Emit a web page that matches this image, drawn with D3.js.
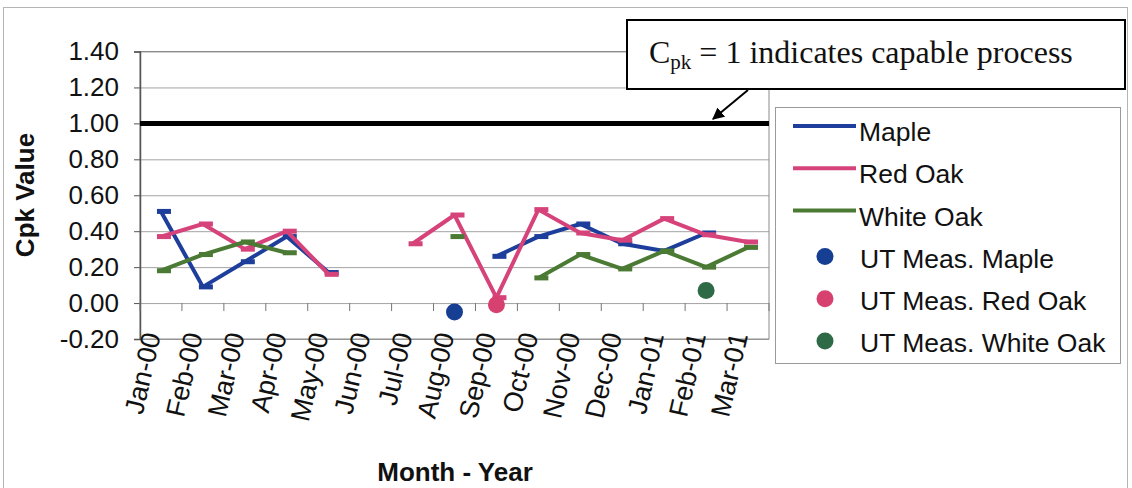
<!DOCTYPE html>
<html>
<head>
<meta charset="utf-8">
<script src="https://cdn.jsdelivr.net/npm/d3@7"></script>
<style>
  html, body { margin: 0; padding: 0; background: #fff; }
  svg { display: block; }
  .sans { font-family: "Liberation Sans", Arial, sans-serif; }
  .serif { font-family: "Liberation Serif", "Times New Roman", serif; }
</style>
</head>
<body>
<svg id="chart" width="1132" height="488"></svg>
<script>
// Monthly Cpk values per species (null = no production that month)
const months = ["Jan-00","Feb-00","Mar-00","Apr-00","May-00","Jun-00","Jul-00","Aug-00",
                "Sep-00","Oct-00","Nov-00","Dec-00","Jan-01","Feb-01","Mar-01"];
const maple    = [0.51, 0.09, 0.23, 0.37, 0.17, null, null, null, 0.26, 0.37, 0.44, 0.33, 0.29, 0.39, null];
const redOak   = [0.37, 0.44, 0.30, 0.40, 0.16, null, 0.33, 0.49, 0.03, 0.52, 0.39, 0.35, 0.47, 0.38, 0.34];
const whiteOak = [0.18, 0.27, 0.34, 0.28, null, null, null, 0.37, null, 0.14, 0.27, 0.19, 0.29, 0.20, 0.31];
// Ultrasonic measurement results
const utMaple    = [null, null, null, null, null, null, null, -0.05, null, null, null, null, null, null, null];
const utRedOak   = [null, null, null, null, null, null, null, null, -0.01, null, null, null, null, null, null];
const utWhiteOak = [null, null, null, null, null, null, null, null, null, null, null, null, null, 0.07, null];
const yTicks = [-0.2, 0, 0.2, 0.4, 0.6, 0.8, 1.0, 1.2, 1.4];
const capableCpk = 1.0;

const lineSeries = [
  { name: "Maple",     values: maple,    color: "#1d3e9b" },
  { name: "Red Oak",   values: redOak,   color: "#d6437a" },
  { name: "White Oak", values: whiteOak, color: "#4a7a33" }
];
const dotSeries = [
  { name: "UT Meas. Maple",     values: utMaple,    color: "#163f93" },
  { name: "UT Meas. Red Oak",   values: utRedOak,   color: "#d7416f" },
  { name: "UT Meas. White Oak", values: utWhiteOak, color: "#2f6a46" }
];

const svg = d3.select("#chart");
const plotL = 140, plotR = 769, plotT = 51.5, plotB = 339;

// outer chart frame
svg.append("rect").attr("x", 3.5).attr("y", 7.5).attr("width", 1124).attr("height", 500)
  .attr("fill", "#fff").attr("stroke", "#b5b5b5").attr("stroke-width", 1);

const x = d3.scaleBand().domain(months).range([plotL, plotR]);
const y = d3.scaleLinear().domain([-0.2, 1.4]).range([plotB, plotT]);
const cx = m => x(m) + x.bandwidth() / 2;

// gridlines
svg.append("g").attr("transform", `translate(${plotL},0)`)
  .call(d3.axisLeft(y).tickValues(yTicks).tickSize(-(plotR - plotL)).tickFormat(""))
  .call(g => g.select(".domain").remove())
  .call(g => g.selectAll("line").attr("stroke", "#a3a3a3").attr("stroke-width", 1));

// plot area border
svg.append("rect").attr("x", plotL).attr("y", plotT).attr("width", plotR - plotL).attr("height", plotB - plotT)
  .attr("fill", "none").attr("stroke", "#8a8a8a").attr("stroke-width", 1);

// value axis
svg.append("g").attr("class", "sans").attr("transform", `translate(${plotL},0)`)
  .call(d3.axisLeft(y).tickValues(yTicks).tickSize(6).tickPadding(15).tickFormat(d => d.toFixed(2)))
  .call(g => g.select(".domain").attr("stroke", "#555").attr("stroke-width", 1.5))
  .call(g => g.selectAll("line").attr("stroke", "#555"))
  .call(g => g.selectAll("text").attr("font-size", 26).attr("fill", "#111")
                .attr("font-family", "Liberation Sans, Arial, sans-serif"));

// category axis: tick marks on the zero line at category boundaries
const bounds = months.map(m => x(m)).concat([plotR]);
svg.append("g").selectAll("line").data(bounds).join("line")
  .attr("x1", d => d).attr("x2", d => d)
  .attr("y1", y(0)).attr("y2", y(0) + 8)
  .attr("stroke", "#777").attr("stroke-width", 1);

// category labels at the bottom of the plot
svg.append("g").attr("class", "sans").selectAll("text").data(months).join("text")
  .attr("transform", d => `translate(${cx(d)},${plotB - 4}) rotate(-77)`)
  .attr("text-anchor", "end")
  .attr("font-size", 27).attr("fill", "#111")
  .text(d => d);

// Cpk = 1 reference line
svg.append("line")
  .attr("x1", plotL).attr("x2", plotR).attr("y1", y(capableCpk)).attr("y2", y(capableCpk))
  .attr("stroke", "#000").attr("stroke-width", 5);

// species lines with dash markers
const line = d3.line().defined(d => d.v != null).x(d => cx(d.m)).y(d => y(d.v));
lineSeries.forEach(s => {
  const pts = months.map((m, i) => ({ m, v: s.values[i] }));
  svg.append("path").datum(pts).attr("d", line)
    .attr("fill", "none").attr("stroke", s.color).attr("stroke-width", 4)
    .attr("stroke-linejoin", "round");
  svg.append("g").selectAll("rect").data(pts.filter(d => d.v != null)).join("rect")
    .attr("x", d => cx(d.m) - 4).attr("y", d => y(d.v) - 2.5)
    .attr("width", 14).attr("height", 5).attr("fill", s.color);
});

// UT measurement points
dotSeries.forEach(s => {
  const pts = months.map((m, i) => ({ m, v: s.values[i] })).filter(d => d.v != null);
  svg.append("g").selectAll("circle").data(pts).join("circle")
    .attr("cx", d => cx(d.m)).attr("cy", d => y(d.v)).attr("r", 8.5).attr("fill", s.color);
});

// axis titles
svg.append("text").attr("class", "sans")
  .attr("transform", `translate(34,195) rotate(-90)`)
  .attr("text-anchor", "middle").attr("font-size", 26).attr("font-weight", "bold").attr("fill", "#111")
  .text("Cpk Value");
svg.append("text").attr("class", "sans")
  .attr("x", 455).attr("y", 481).attr("text-anchor", "middle")
  .attr("font-size", 26).attr("font-weight", "bold").attr("fill", "#111")
  .text("Month - Year");

// legend
const lg = svg.append("g").attr("class", "sans");
lg.append("rect").attr("x", 775.5).attr("y", 107.5).attr("width", 345).attr("height", 256)
  .attr("fill", "#fff").attr("stroke", "#9a9a9a").attr("stroke-width", 1);
const rowY = i => 132 + i * 42.2;
lineSeries.forEach((s, i) => {
  lg.append("line").attr("x1", 793).attr("x2", 856).attr("y1", rowY(i) - 6).attr("y2", rowY(i) - 6)
    .attr("stroke", s.color).attr("stroke-width", 4);
  lg.append("text").attr("x", 859).attr("y", rowY(i)).attr("dy", "0.35em")
    .attr("font-size", 26.5).attr("fill", "#111").text(s.name);
});
dotSeries.forEach((s, j) => {
  const i = j + 3;
  lg.append("circle").attr("cx", 825).attr("cy", rowY(i) - 2).attr("r", 8.5).attr("fill", s.color);
  lg.append("text").attr("x", 860).attr("y", rowY(i)).attr("dy", "0.35em")
    .attr("font-size", 26.5).attr("fill", "#111").text(s.name);
});

// callout box and arrow
svg.append("defs").append("marker").attr("id", "arrowhead")
  .attr("viewBox", "0 0 10 10").attr("refX", 9).attr("refY", 5)
  .attr("markerWidth", 6).attr("markerHeight", 6).attr("orient", "auto")
  .append("path").attr("d", "M0,0 L10,5 L0,10 z").attr("fill", "#000");
svg.append("line").attr("x1", 748).attr("y1", 90).attr("x2", 713).attr("y2", 119)
  .attr("stroke", "#000").attr("stroke-width", 2).attr("marker-end", "url(#arrowhead)");
svg.append("rect").attr("x", 627).attr("y", 20).attr("width", 498).attr("height", 69)
  .attr("fill", "#fff").attr("stroke", "#000").attr("stroke-width", 2);
const note = svg.append("text").attr("class", "serif").attr("x", 649).attr("y", 63)
  .attr("font-size", 32).attr("fill", "#111");
note.append("tspan").text("C");
note.append("tspan").attr("font-size", 21).attr("dy", 6).text("pk");
note.append("tspan").attr("dy", -6).text(" = 1 indicates capable process");
</script>
</body>
</html>
